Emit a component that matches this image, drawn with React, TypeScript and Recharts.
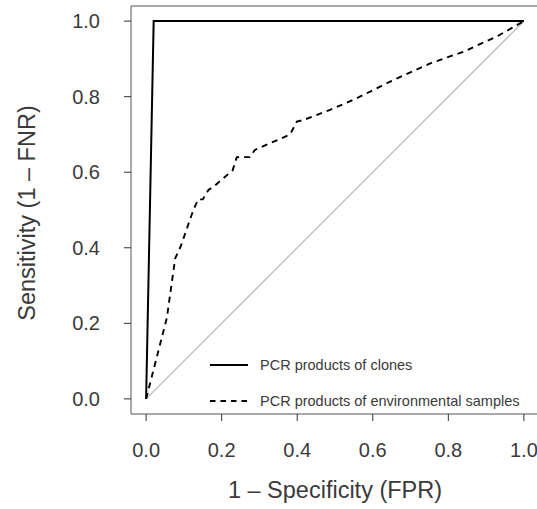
import { ComposedChart, Line, XAxis, YAxis, ReferenceArea, Legend, Label } from "recharts";

const FONT = '"Liberation Sans", Arial, Helvetica, sans-serif';
const TEXT = "#3a3a3a";

// axis ticks (both axes)
const ticks = [0, 0.2, 0.4, 0.6, 0.8, 1.0];

// ROC: PCR products of clones
const clonesFpr = [0, 0.02, 1];
const clonesTpr = [0, 1, 1];

// ROC: PCR products of environmental samples
const envFpr = [0, 0.055, 0.077, 0.092, 0.125, 0.138, 0.15, 0.165, 0.18, 0.229, 0.24, 0.274, 0.288, 0.381, 0.399, 0.416, 0.487, 0.558, 0.646, 0.752, 0.84, 0.928, 1];
const envTpr = [0, 0.215, 0.372, 0.405, 0.5, 0.528, 0.528, 0.553, 0.563, 0.605, 0.64, 0.64, 0.659, 0.7, 0.734, 0.738, 0.765, 0.796, 0.84, 0.888, 0.919, 0.959, 1];

// chance diagonal
const chanceFpr = [0, 1];
const chanceTpr = [0, 1];

const seriesNames = ["PCR products of clones", "PCR products of environmental samples"];

const toPoints = (xs: number[], ys: number[]) => xs.map((x, i) => ({ x, y: ys[i] }));

const clones = toPoints(clonesFpr, clonesTpr);
const env = toPoints(envFpr, envTpr);
const chance = toPoints(chanceFpr, chanceTpr);

const renderLegend = () => (
  <div style={{ fontFamily: FONT, fontSize: 14.5, color: TEXT }}>
    {seriesNames.map((name, i) => (
      <div key={name} style={{ display: "flex", alignItems: "center", height: 36, whiteSpace: "nowrap" }}>
        <svg width={40} height={4}>
          <line x1={1} x2={39} y1={2} y2={2} stroke="#000" strokeWidth={1.8} strokeDasharray={i === 1 ? "5.5 5" : undefined} />
        </svg>
        <span style={{ marginLeft: 11 }}>{name}</span>
      </div>
    ))}
  </div>
);

export default function App() {
  const tickStyle = { fill: TEXT, fontSize: 20, fontFamily: FONT };
  return (
    <div style={{ position: "absolute", left: 0, top: 0, width: 537, height: 509, overflow: "hidden", background: "#fff" }}>
      <ComposedChart width={541} height={509} margin={{ top: 6, right: 2, bottom: 0, left: 0 }}>
        <XAxis
          type="number"
          dataKey="x"
          domain={[-0.04, 1.04]}
          ticks={ticks}
          tickFormatter={(v: number) => v.toFixed(1)}
          axisLine={false}
          tickLine={{ stroke: "#333" }}
          tickSize={7}
          tickMargin={22}
          height={95}
          tick={tickStyle}
        >
          <Label
            content={({ viewBox }: any) => (
              <text x={viewBox.x + viewBox.width / 2} y={viewBox.y + 84} textAnchor="middle" fontFamily={FONT} fontSize={23.5} fill={TEXT}>
                1 – Specificity (FPR)
              </text>
            )}
          />
        </XAxis>
        <YAxis
          type="number"
          dataKey="y"
          domain={[-0.04, 1.04]}
          ticks={ticks}
          tickFormatter={(v: number) => v.toFixed(1)}
          axisLine={false}
          tickLine={{ stroke: "#333" }}
          tickSize={7}
          tickMargin={24}
          width={131}
          tick={tickStyle}
        >
          <Label
            content={({ viewBox }: any) => {
              const cx = 27;
              const cy = viewBox.y + viewBox.height / 2 + 3;
              return (
                <text x={cx} y={cy} transform={`rotate(-90, ${cx}, ${cy})`} textAnchor="middle" dominantBaseline="central" fontFamily={FONT} fontSize={23.5} fill={TEXT}>
                  Sensitivity (1 – FNR)
                </text>
              );
            }}
          />
        </YAxis>
        <ReferenceArea x1={-0.04} x2={1.04} y1={-0.04} y2={1.04} fill="none" fillOpacity={0} stroke="#555" strokeWidth={1} />
        <Line data={chance} dataKey="y" stroke="#bbb" strokeWidth={1.3} dot={false} legendType="none" isAnimationActive={false} />
        <Line data={env} dataKey="y" name={seriesNames[1]} stroke="#000" strokeWidth={1.9} strokeDasharray="6 5" dot={false} isAnimationActive={false} />
        <Line data={clones} dataKey="y" name={seriesNames[0]} stroke="#000" strokeWidth={2} dot={false} isAnimationActive={false} />
        <Legend
          layout="horizontal"
          verticalAlign="middle"
          align="center"
          content={renderLegend}
          wrapperStyle={{ position: "absolute", left: 209, top: 347, width: "auto" }}
        />
      </ComposedChart>
    </div>
  );
}
